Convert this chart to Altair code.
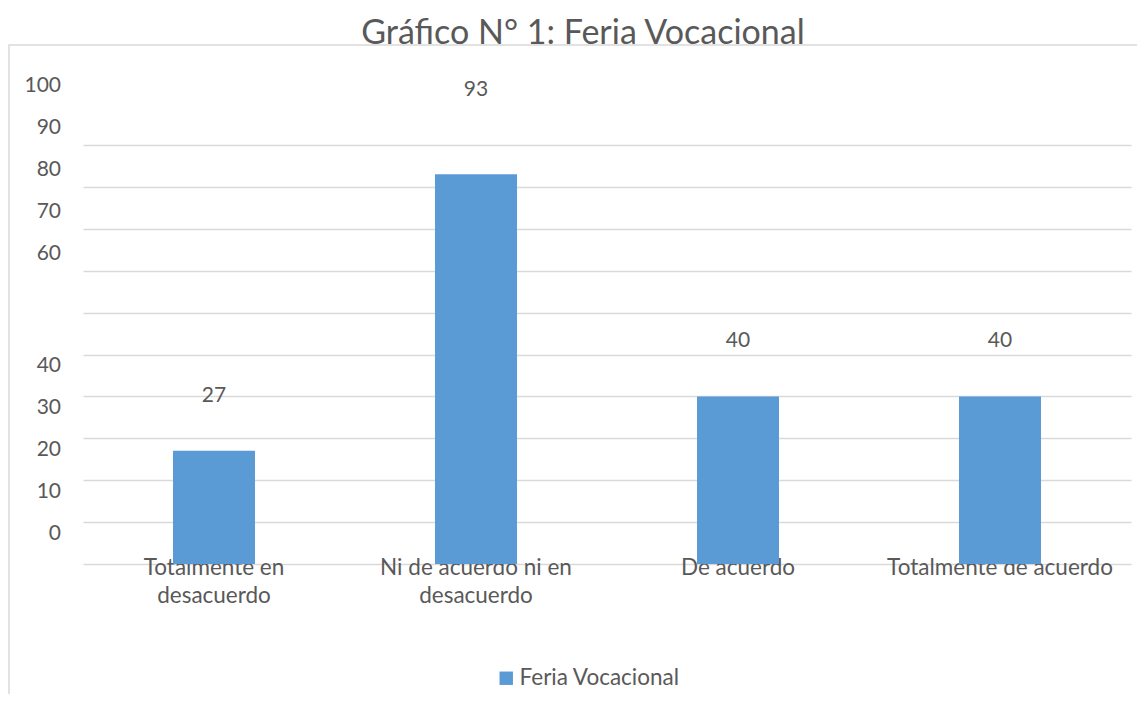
import altair as alt
import pandas as pd

# ---- data ----
categories = ["Totalmente en\ndesacuerdo", "Ni de acuerdo ni en\ndesacuerdo", "De acuerdo", "Totalmente de acuerdo"]
values = [27, 93, 40, 40]
series_name = "Feria Vocacional"
grid_values = [0, 10, 20, 30, 40, 50, 60, 70, 80, 90, 100]
tick_labels_low = [0, 10, 20, 30, 40]
tick_labels_high = [60, 70, 80, 90, 100]
chart_title = "Gráfico N° 1: Feria Vocacional"

FONT = "Lato"
TXT = "#595959"
BAR = "#5B9BD5"
GRID = "#D9D9D9"

df = pd.DataFrame({"categoria": categories, "valor": values, "serie": [series_name] * len(categories)})

yscale = alt.Scale(domain=[0, 100], nice=False, zero=True)
xscale = alt.Scale(paddingInner=0.687, paddingOuter=0.3435)

x_enc = alt.X(
    "categoria:N", sort=categories, scale=xscale,
    axis=alt.Axis(title=None, labelAngle=0, labelExpr="split(datum.label, '\\n')",
                  labelFont=FONT, labelFontSize=22.5, labelColor=TXT, labelPadding=10,
                  labelBaseline="alphabetic", labelLineHeight=28, labelLimit=0,
                  ticks=False, domain=False, grid=False),
)
y_enc = alt.Y(
    "valor:Q", scale=yscale,
    axis=alt.Axis(title=None, values=grid_values, labels=False, ticks=False, domain=False,
                  grid=True, gridColor=GRID, gridWidth=1.5),
)

border = alt.Chart(pd.DataFrame({"a": [0]})).mark_rect(
    fill="transparent", stroke=GRID, strokeWidth=1.5
).encode(x=alt.value(-74), x2=alt.value(1300), y=alt.value(-100), y2=alt.value(800))

title_mark = alt.Chart(pd.DataFrame({"t": [chart_title]})).mark_text(
    font=FONT, fontSize=34, color=TXT, align="center", baseline="alphabetic"
).encode(x=alt.value(500), y=alt.value(-101), text="t:N")

bars = alt.Chart(df).mark_bar().encode(
    x=x_enc, y=y_enc,
    color=alt.Color("serie:N", scale=alt.Scale(range=[BAR]),
                    legend=alt.Legend(title=None, orient="none", legendX=412, legendY=522,
                                      symbolType="square", symbolSize=180, symbolStrokeWidth=0,
                                      labelFont=FONT, labelFontSize=22.5, labelColor=TXT,
                                      labelOffset=2, labelLimit=0, padding=0)),
)

labels_main = alt.Chart(df).transform_filter("datum.valor <= 90").mark_text(
    dy=-55, font=FONT, fontSize=21, color=TXT, baseline="middle"
).encode(x=alt.X("categoria:N", sort=categories, scale=xscale), y=alt.Y("valor:Q", scale=yscale), text="valor:Q")

labels_top = alt.Chart(df).transform_filter("datum.valor > 90").mark_text(
    dy=-84, font=FONT, fontSize=21, color=TXT, baseline="middle"
).encode(x=alt.X("categoria:N", sort=categories, scale=xscale), y=alt.Y("valor:Q", scale=yscale), text="valor:Q")

ticks_low = alt.Chart(pd.DataFrame({"v": tick_labels_low})).mark_text(
    align="right", baseline="middle", dy=-30, font=FONT, fontSize=21, color=TXT
).encode(y=alt.Y("v:Q", scale=yscale), x=alt.value(-22), text="v:Q")

ticks_high = alt.Chart(pd.DataFrame({"v": tick_labels_high})).mark_text(
    align="right", baseline="middle", dy=-59, font=FONT, fontSize=21, color=TXT
).encode(y=alt.Y("v:Q", scale=yscale), x=alt.value(-22), text="v:Q")

chart = alt.layer(border, title_mark, bars, labels_main, labels_top, ticks_low, ticks_high).properties(
    width=1048, height=419,
    padding={"left": 75, "top": 137, "right": 6, "bottom": 130},
    autosize=alt.AutoSizeParams(type="none"),
).configure_view(stroke=None).resolve_scale(x="shared", y="shared")

chart.save("out.html", embed_options={"renderer": "svg", "actions": False})
